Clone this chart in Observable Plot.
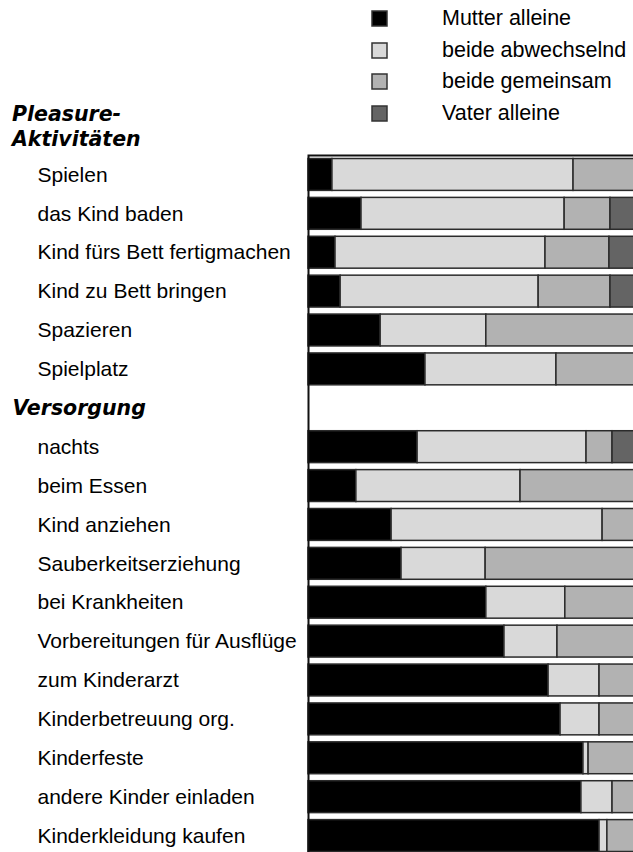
<!DOCTYPE html>
<html>
<head>
<meta charset="utf-8">
<script src="https://cdn.jsdelivr.net/npm/d3@7"></script>
<script src="https://cdn.jsdelivr.net/npm/@observablehq/plot@0.6"></script>
<style>
  html, body { margin: 0; padding: 0; background: #fff; overflow: hidden; }
  #wrap { position: relative; width: 633px; height: 852px; font-family: "Liberation Sans", Arial, sans-serif; }
  #chart { position: absolute; left: 0; top: 0; }
  #legend { position: absolute; left: 372px; top: 3px; }
  #head { position: absolute; left: 12px; top: 102px; font: oblique bold 20.5px "DejaVu Sans", sans-serif; line-height: 25px; color: #000; }
  .lg-swatches { font: 21.5px "Liberation Sans", Arial, sans-serif !important; margin: 0 !important; color: #000; }
  .lg-swatch { height: 31.6px; padding: 0 !important; margin: 0 !important; display: flex !important; align-items: center; }
  .lg-swatch > svg { margin-right: 55px !important; overflow: visible; }
  .lg-swatch svg rect { stroke: #333; stroke-width: 1.5px; }
</style>
</head>
<body>
<div id="wrap">
  <div id="chart"></div>
  <div id="legend"></div>
  <div id="head">Pleasure-<br>Aktivitäten</div>
</div>
<script>
// Categories (Pleasure-Aktivitäten: first six; Versorgung: rest)
const pleasure = ["Spielen", "das Kind baden", "Kind fürs Bett fertigmachen", "Kind zu Bett bringen", "Spazieren", "Spielplatz"];
const versorgung = ["nachts", "beim Essen", "Kind anziehen", "Sauberkeitserziehung", "bei Krankheiten", "Vorbereitungen für Ausflüge", "zum Kinderarzt", "Kinderbetreuung org.", "Kinderfeste", "andere Kinder einladen", "Kinderkleidung kaufen"];
const groupHeader = "Versorgung";
const categories = pleasure.concat(versorgung);

// Series (percent of each activity)
const mutter      = [7.0, 15.5, 7.9, 9.4, 21.1, 34.2, 31.9, 14.0, 24.3, 27.2, 52.0, 57.3, 70.2, 73.7, 80.4, 79.8, 85.1];
const abwechselnd = [70.5, 59.4, 61.4, 57.9, 30.9, 38.3, 49.4, 48.0, 61.7, 24.6, 23.1, 15.5, 14.9, 11.4, 1.5, 9.1, 2.3];
const gemeinsam   = [22.5, 13.4, 18.7, 21.0, 48.0, 27.5, 7.6, 38.0, 14.0, 48.2, 24.9, 27.2, 14.9, 14.9, 18.1, 11.1, 12.6];
const vater       = [0, 11.7, 12.0, 11.7, 0, 0, 11.1, 0, 0, 0, 0, 0, 0, 0, 0, 0, 0];

const types = ["Mutter alleine", "beide abwechselnd", "beide gemeinsam", "Vater alleine"];
const colors = ["#000000", "#d9d9d9", "#b2b2b2", "#646464"];
const series = [mutter, abwechselnd, gemeinsam, vater];

const rows = pleasure.concat([groupHeader], versorgung);
const data = categories.flatMap((c, i) => types.map((t, j) => ({category: c, type: t, value: series[j][i]})));

const font = "Liberation Sans, Arial, sans-serif";

const chart = Plot.plot({
  width: 633,
  height: 852,
  marginLeft: 308,
  marginRight: -17,
  marginTop: 155,
  marginBottom: -3,
  style: {overflow: "hidden", background: "white", fontFamily: font},
  x: {domain: [0, 100], axis: null},
  y: {domain: rows, paddingInner: 0.18, paddingOuter: 0.09, round: false, axis: null},
  color: {domain: types, range: colors},
  marks: [
    Plot.barX(data, {x: "value", y: "category", fill: "type", stroke: "#2b2b2b", strokeWidth: 1.5, order: types}),
    Plot.frame({stroke: "#111", strokeWidth: 2}),
    Plot.text(categories, {y: d => d, text: d => d, frameAnchor: "left", textAnchor: "start", dx: -271, fontSize: 21, fill: "#000"}),
    Plot.text([groupHeader], {y: d => d, text: d => d, frameAnchor: "left", textAnchor: "start", dx: -296, fontSize: 20.5, fontFamily: "DejaVu Sans, sans-serif", fontWeight: "bold", fontStyle: "oblique", fill: "#000"})
  ]
});
document.getElementById("chart").appendChild(chart);

const legend = Plot.legend({
  color: {domain: types, range: colors},
  legend: "swatches",
  columns: 1,
  swatchSize: 15,
  className: "lg"
});
document.getElementById("legend").appendChild(legend);
</script>
</body>
</html>
